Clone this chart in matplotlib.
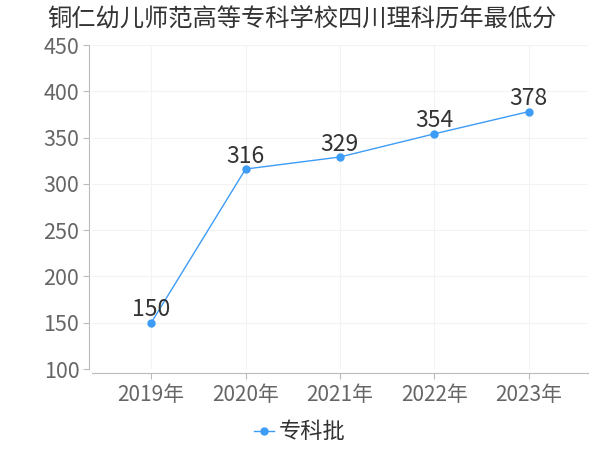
import matplotlib
matplotlib.use("Agg")
import matplotlib.pyplot as plt

plt.rcParams['font.family'] = ['Noto Sans CJK SC', 'DejaVu Sans']

years = ["2019年", "2020年", "2021年", "2022年", "2023年"]
scores = [150, 316, 329, 354, 378]
yticks = [100, 150, 200, 250, 300, 350, 400, 450]

fig = plt.figure(figsize=(6, 4.5), dpi=100)
ax = fig.add_axes([0.153, 0.18, 0.827, 0.72])

x = list(range(len(years)))
ax.plot(x, scores, color="#3d9cf5", linewidth=1, marker="o", markersize=5,
        label="专科批", zorder=3)

for xi, v in zip(x, scores):
    ax.annotate(str(v), (xi, v), xytext=(0, 1), textcoords="offset points",
                ha="center", va="bottom", fontsize=16.5, color="#333333")

ax.set_xlim(-0.63, 4.63)
ax.set_ylim(100, 450)
ax.set_xticks(x)
ax.set_xticklabels(years)
ax.set_yticks(yticks)

ax.grid(True, color="#f3f3f3", linewidth=0.8)
ax.set_axisbelow(True)

for s in ["top", "right"]:
    ax.spines[s].set_visible(False)
ax.spines["left"].set_color("#bbbbbb")
ax.spines["bottom"].set_color("#bbbbbb")
ax.spines["bottom"].set_position(("outward", 3))
ax.spines["left"].set_position(("outward", 2))

ax.tick_params(axis="both", colors="#bbbbbb", labelcolor="#666666", length=4)
ax.tick_params(axis="x", labelsize=15, pad=4)
ax.tick_params(axis="y", labelsize=15.5, pad=3)

fig.text(0.078, 0.958, "铜仁幼儿师范高等专科学校四川理科历年最低分",
         fontsize=17.5, color="#333333", ha="left", va="center")

fig.legend(loc="center", bbox_to_anchor=(0.5, 0.04), frameon=False,
           fontsize=16, handlelength=0.9, handletextpad=0.2,
           labelcolor="#333333")

fig.savefig("out.png", dpi=100)
